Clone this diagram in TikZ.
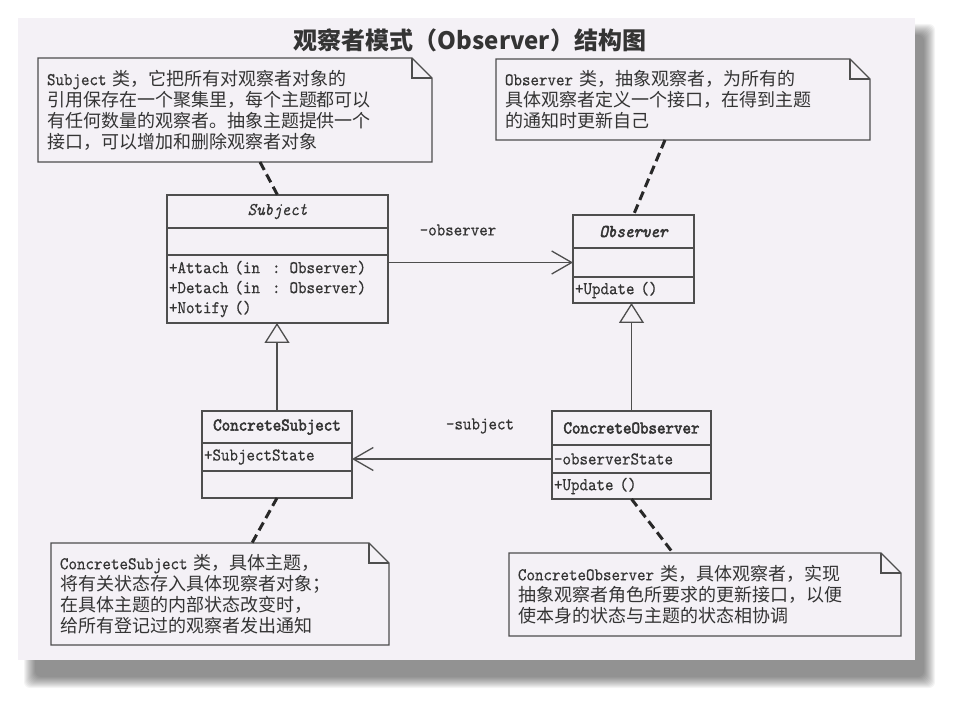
\documentclass[tikz,border=0pt]{standalone}
\usepackage{fontspec}
\setmainfont{Noto Sans CJK SC}
\newfontfamily\clsfont[Extension=.otf, UprightFont=*-regular, ItalicFont=*-italic, FakeStretch=0.9, FakeBold=0.4]{lmmono10}
\newfontfamily\clsbold[Extension=.otf, UprightFont=*-regular, ItalicFont=*-italic, FakeStretch=0.9, FakeBold=2.6]{lmmono10}
\usepackage{xcolor}
\usepackage{tikz}
\usetikzlibrary{positioning,arrows.meta}
\definecolor{pagec}{RGB}{244,241,246}
\definecolor{linec}{RGB}{78,78,78}
\definecolor{textc}{RGB}{52,52,52}
\definecolor{dashc}{RGB}{40,40,40}
\newcommand{\cls}[1]{{\fontsize{18}{21}\selectfont\clsfont #1}}
\newcommand{\foldnote}[1]{%
  \draw[line] (#1.north west) -- ([xshift=-20pt]#1.north east) -- ([yshift=-20pt]#1.north east)
    -- (#1.south east) -- (#1.south west) -- cycle;
  \draw[line] ([xshift=-20pt]#1.north east) |- ([yshift=-20pt]#1.north east);}

\begin{document}
\begin{tikzpicture}[
    x=1pt, y=-1pt,
    line/.style={draw=linec, line width=1.3pt},
    classpart/.style={line, outer sep=0pt, inner sep=2pt, anchor=north, text=textc,
        font=\fontsize{18}{20}\selectfont\clsfont},
    notebox/.style={outer sep=0pt, inner xsep=9pt, inner ysep=0pt, align=left, text=textc,
        font=\fontsize{18}{21}\selectfont},
    lbl/.style={text=textc, font=\fontsize{18}{20}\selectfont\clsfont},
    assoc/.style={line, -{Straight Barb[length=20pt,width=23pt]}},
    inherit/.style={line, -{Triangle[open,length=20pt,width=25pt]}},
    anchorline/.style={draw=dashc, line width=3pt, dash pattern=on 9pt off 5pt}
]
\useasboundingbox (0,0) rectangle (962,708);
\fill[white] (0,0) rectangle (962,708);

% page with its shadow
\foreach \i in {0,...,11}
    \fill[black, opacity=0.045, rounded corners=6pt] (24+\i,24+\i) rectangle (935-\i,688-\i);
\fill[pagec] (18,18) rectangle (915,660);

\node[text=textc, font=\fontsize{24}{24}\selectfont\bfseries] (title) at (470,40)
    {观察者模式（Observer）结构图};

% classes
\node[classpart, minimum width=221pt, minimum height=33pt] (subjname) at (277.5,195) {\itshape Subject};
\node[classpart, minimum width=221pt, minimum height=27pt, below=0pt of subjname] (subjattr) {};
\node[classpart, minimum width=221pt, minimum height=68pt, text width=217pt, align=left,
    below=0pt of subjattr] (subjops)
    {+Attach (in~~: Observer)\\+Detach (in~~: Observer)\\+Notify ()};

\node[classpart, minimum width=121pt, minimum height=33pt] (obsname) at (633.5,215) {\clsbold\itshape Observer};
\node[classpart, minimum width=121pt, minimum height=29pt, below=0pt of obsname] (obsattr) {};
\node[classpart, minimum width=121pt, minimum height=26pt, text width=117pt, align=left,
    below=0pt of obsattr] (obsops) {+Update ()};

\node[classpart, minimum width=150pt, minimum height=32pt] (csubjname) at (277,411) {\clsbold ConcreteSubject};
\node[classpart, minimum width=150pt, minimum height=28pt, text width=146pt, align=left,
    below=0pt of csubjname] (csubjattr) {+SubjectState};
\node[classpart, minimum width=150pt, minimum height=27pt, below=0pt of csubjattr] (csubjops) {};

\node[classpart, minimum width=159pt, minimum height=34pt] (cobsname) at (631.5,411) {\clsbold ConcreteObserver};
\node[classpart, minimum width=159pt, minimum height=28pt, text width=155pt, align=left,
    below=0pt of cobsname] (cobsattr) {-observerState};
\node[classpart, minimum width=159pt, minimum height=26pt, text width=155pt, align=left,
    below=0pt of cobsattr] (cobsops) {+Update ()};

% relations
\draw[assoc] (subjops.east |- obsattr.west) -- (obsattr.west);
\node[lbl] (obslbl) at (458,230) {-observer};
\draw[assoc] (cobsattr.west) -- (csubjattr.east |- cobsattr.west);
\node[lbl] (subjlbl) at (480,426) {-subject};
\draw[inherit] (csubjname.north) -- (csubjname.north |- subjops.south);
\draw[inherit] (cobsname.north) -- (cobsname.north |- obsops.south);

% notes
\node[notebox, text width=376pt, minimum height=104pt] (subjnote) at (235,110)
    {\cls{Subject} 类，它把所有对观察者对象的\\引用保存在一个聚集里，每个主题都可以\\有任何数量的观察者。抽象主题提供一个\\接口，可以增加和删除观察者对象};
\foldnote{subjnote}
\node[notebox, text width=356pt, minimum height=81pt] (obsnote) at (683,99.5)
    {\cls{Observer} 类，抽象观察者，为所有的\\具体观察者定义一个接口，在得到主题\\的通知时更新自己};
\foldnote{obsnote}
\node[notebox, text width=320pt, minimum height=102pt] (csubjnote) at (220,594)
    {\cls{ConcreteSubject} 类，具体主题，\\将有关状态存入具体现察者对象；\\在具体主题的内部状态改变时，\\给所有登记过的观察者发出通知};
\foldnote{csubjnote}
\node[notebox, text width=374pt, minimum height=83pt] (cobsnote) at (705,594.5)
    {\cls{ConcreteObserver} 类，具体观察者，实现\\抽象观察者角色所要求的更新接口，以便\\使本身的状态与主题的状态相协调};
\foldnote{cobsnote}

\draw[anchorline] ([xshift=25pt]subjnote.south) -- (subjname.north);
\draw[anchorline] ([xshift=-18pt]obsnote.south) -- (obsname.north);
\draw[anchorline] (csubjops.south) -- ([xshift=32pt]csubjnote.north);
\draw[anchorline] (cobsops.south) -- ([xshift=-32pt]cobsnote.north);

\end{tikzpicture}
\end{document}
